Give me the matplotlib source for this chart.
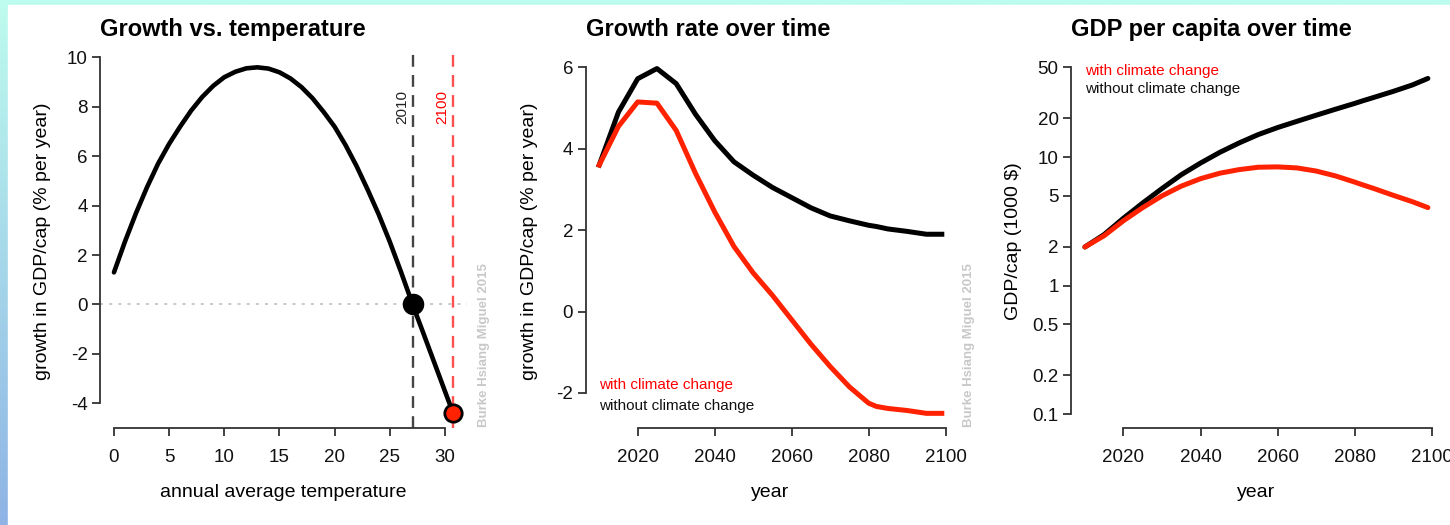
import matplotlib.pyplot as plt
import numpy as np
from matplotlib.colors import LinearSegmentedColormap
from matplotlib.patches import Rectangle

plt.rcParams['font.family'] = ['Liberation Sans', 'DejaVu Sans']
plt.rcParams['axes.unicode_minus'] = False

# growth response to annual average temperature
temp = [0, 1, 2, 3, 4, 5, 6, 7, 8, 9, 10, 11, 12, 13, 14, 15, 16, 17, 18, 19,
        20, 21, 22, 23, 24, 25, 26, 27, 27.07, 28, 29, 30, 30.76]
growth = [1.3, 2.55, 3.7, 4.75, 5.7, 6.5, 7.2, 7.85, 8.4, 8.85, 9.2, 9.42, 9.56,
          9.6, 9.55, 9.4, 9.15, 8.8, 8.35, 7.8, 7.2, 6.45, 5.6, 4.65, 3.65, 2.55,
          1.35, 0.1, 0.0, -1.1, -2.3, -3.5, -4.41]
temp_2010, growth_2010 = 27.07, 0.0
temp_2100, growth_2100 = 30.76, -4.41

# projections
years = [2010, 2015, 2020, 2025, 2030, 2035, 2040, 2045, 2050, 2055, 2060,
         2065, 2070, 2075, 2080, 2082, 2085, 2090, 2095, 2099]
rate_cc = [3.6, 4.55, 5.15, 5.12, 4.45, 3.4, 2.45, 1.6, 0.95, 0.4, -0.2,
           -0.8, -1.35, -1.85, -2.25, -2.33, -2.38, -2.43, -2.5, -2.5]
rate_nocc = [3.6, 4.9, 5.72, 5.97, 5.6, 4.85, 4.2, 3.68, 3.35, 3.05, 2.8,
             2.55, 2.35, 2.23, 2.12, 2.09, 2.03, 1.97, 1.9, 1.9]
gdp_cc = [2.0, 2.45, 3.2, 4.05, 5.0, 5.95, 6.8, 7.5, 8.0, 8.35, 8.4,
          8.25, 7.8, 7.15, 6.4, 6.1, 5.7, 5.05, 4.5, 4.05]
gdp_nocc = [2.0, 2.5, 3.35, 4.4, 5.7, 7.3, 9.0, 10.9, 12.9, 15.0, 17.0,
            19.0, 21.2, 23.6, 26.2, 27.4, 29.2, 32.5, 36.5, 41.0]

RED = '#ff2200'
AX = '#333333'
W, H = 1450, 525

fig = plt.figure(figsize=(W / 100, H / 100), dpi=100)

# backdrop: gradient border with white panel
bg = fig.add_axes([0, 0, 1, 1], zorder=-10)
cm = LinearSegmentedColormap.from_list('bg', ['#bdfcee', '#8fb3e5'])
bg.imshow(np.linspace(0, 1, 256)[:, None], cmap=cm, aspect='auto',
          extent=[0, 1, 0, 1], origin='upper')
bg.add_patch(Rectangle((8 / W, 0), 1, 1 - 5 / H, color='white'))
bg.set_xlim(0, 1)
bg.set_ylim(0, 1)
bg.axis('off')


def style(ax, xt, yt, ylabels=None):
    for s in ['top', 'right']:
        ax.spines[s].set_visible(False)
    for s in ['left', 'bottom']:
        ax.spines[s].set_color(AX)
        ax.spines[s].set_linewidth(1.3)
    ax.spines['left'].set_bounds(yt[0], yt[-1])
    ax.spines['bottom'].set_bounds(xt[0], xt[-1])
    ax.set_xticks(xt)
    if ylabels is None:
        ax.set_yticks(yt)
    else:
        ax.set_yticks(yt, ylabels)
    ax.minorticks_off()
    ax.tick_params(direction='out', length=6, width=1.3, color=AX,
                   labelsize=13.5, labelcolor='#111111')
    ax.tick_params(axis='x', pad=9)
    ax.tick_params(axis='y', pad=3)
    ax.patch.set_alpha(0)


def labels(ax, title, xlabel, ylabel, ylx):
    ax.set_title(title, loc='left', y=1.063, va='center', pad=0,
                 fontsize=17, fontweight='bold')
    ax.set_xlabel(xlabel, fontsize=14)
    ax.xaxis.set_label_coords(0.5, -0.171)
    ax.xaxis.label.set_va('center')
    ax.set_ylabel(ylabel, fontsize=14)
    ax.yaxis.set_label_coords(ylx, 0.5)
    ax.yaxis.label.set_va('center')


bottom, height = 97 / H, 374.5 / H

# panel 1
ax1 = fig.add_axes([100.4 / W, bottom, 366.5 / W, height])
ax1.set_xlim(-1.23, 32.0)
ax1.set_ylim(-5.0, 10.16)
ax1.axhline(0, color='#bbbbbb', lw=1.1, ls=(0, (2, 4)))
ax1.axvline(temp_2010, color='#444444', lw=1.7, ls=(0, (5, 3.5)))
ax1.axvline(temp_2100, color='#ff5050', lw=1.7, ls=(0, (5, 3.5)))
ax1.plot(temp, growth, color='black', lw=3.3, solid_capstyle='round',
         solid_joinstyle='round')
ax1.plot(temp_2010, growth_2010, 'o', ms=14.5, color='black', clip_on=False)
ax1.plot(temp_2100, growth_2100, 'o', ms=12.5, mfc=RED, mec='black', mew=2,
         clip_on=False)
ax1.text(temp_2010 - 0.95, 8.0, '2010', rotation=90, ha='center',
         va='center', fontsize=11, color='#222222')
ax1.text(temp_2100 - 0.95, 8.0, '2100', rotation=90, ha='center',
         va='center', fontsize=11, color='red')
style(ax1, [0, 5, 10, 15, 20, 25, 30], [-4, -2, 0, 2, 4, 6, 8, 10])
labels(ax1, 'Growth vs. temperature', 'annual average temperature',
       'growth in GDP/cap (% per year)', -0.157)

# panel 2
ax2 = fig.add_axes([585.5 / W, bottom, 370 / W, height])
ax2.set_xlim(2006.44, 2102.56)
ax2.set_ylim(-2.86, 6.34)
ax2.plot(years, rate_nocc, color='black', lw=3.6)
ax2.plot(years, rate_cc, color=RED, lw=3.6)
ax2.text(2010, -1.8, 'with climate change', color='red', fontsize=11,
         va='center', ha='left')
ax2.text(2010, -2.32, 'without climate change', color='#111111', fontsize=11,
         va='center', ha='left')
style(ax2, [2020, 2040, 2060, 2080, 2100], [-2, 0, 2, 4, 6])
labels(ax2, 'Growth rate over time', 'year',
       'growth in GDP/cap (% per year)', -0.15)

# panel 3
ax3 = fig.add_axes([1071.2 / W, bottom, 370.4 / W, height])
ax3.set_yscale('log')
ax3.set_xlim(2006.44, 2102.56)
ax3.set_ylim(0.078, 64.1)
ax3.plot(years, gdp_nocc, color='black', lw=3.6, solid_capstyle='round')
ax3.plot(years, gdp_cc, color=RED, lw=3.6, solid_capstyle='round')
ax3.text(2010, 46.5, 'with climate change', color='red', fontsize=11,
         va='center', ha='left')
ax3.text(2010, 34.0, 'without climate change', color='#111111', fontsize=11,
         va='center', ha='left')
gdp_ticks = [0.1, 0.2, 0.5, 1, 2, 5, 10, 20, 50]
style(ax3, [2020, 2040, 2060, 2080, 2100], gdp_ticks,
      ['0.1', '0.2', '0.5', '1', '2', '5', '10', '20', '50'])
labels(ax3, 'GDP per capita over time', 'year', 'GDP/cap (1000 $)', -0.157)

# credit line beside the first two panels
for xp in [484, 969]:
    fig.text(xp / W, 98 / H, 'Burke Hsiang Miguel 2015', rotation=90,
             ha='center', va='bottom', fontsize=9.5, color='#c8c8c8',
             fontweight='bold')

fig.savefig('out.png', dpi=100)
